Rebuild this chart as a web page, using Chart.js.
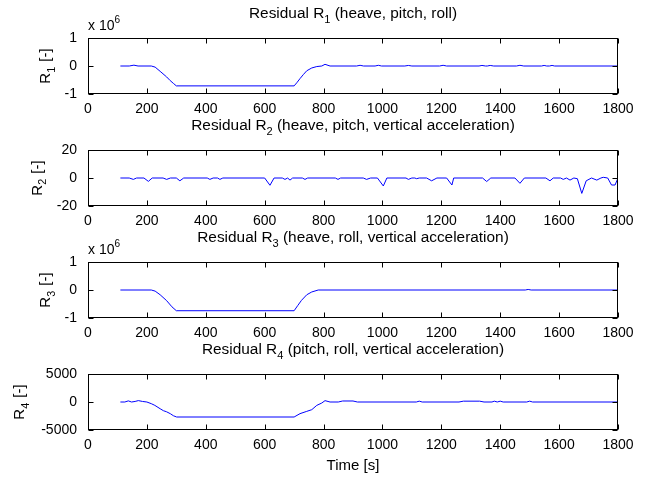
<!DOCTYPE html>
<html>
<head>
<meta charset="utf-8">
<script src="https://cdn.jsdelivr.net/npm/chart.js@4.4.1/dist/chart.umd.min.js"></script>
<style>
  body { margin: 0; background: #fff; }
  .sub { position: absolute; left: 0; width: 649px; height: 142px; }
</style>
</head>
<body>
<div class="sub" style="top:0"><canvas id="c1" width="649" height="142"></canvas></div>
<div class="sub" style="top:112px"><canvas id="c2" width="649" height="142"></canvas></div>
<div class="sub" style="top:224px"><canvas id="c3" width="649" height="142"></canvas></div>
<div class="sub" style="top:336px"><canvas id="c4" width="649" height="142"></canvas></div>
<script>
// x axis ticks shared by all four panels
const timeTicks = [0, 200, 400, 600, 800, 1000, 1200, 1400, 1600, 1800];

// Residual R1 (heave, pitch, roll)
const r1Time = [110, 140, 156, 170, 215, 228, 245, 267, 279, 290, 300, 700, 709, 720, 731, 743, 760, 777, 794, 805, 822,
  912, 924, 936, 975, 986, 997, 1076, 1088, 1100, 1194, 1206, 1218, 1328, 1338, 1350, 1356, 1366, 1378, 1455, 1467, 1480,
  1540, 1549, 1558, 1567, 1576, 1585, 1800];
const r1Vals = [0, 0, 0.03e6, 0, 0, -0.04e6, -0.19e6, -0.39e6, -0.52e6, -0.62e6, -0.71e6, -0.71e6, -0.6e6, -0.45e6, -0.31e6, -0.17e6, -0.07e6, -0.02e6, 0, 0.06e6, 0,
  0, 0.025e6, 0, 0, 0.025e6, 0, 0, 0.02e6, 0, 0, 0.025e6, 0, 0, 0.02e6, 0, 0, 0.02e6, 0, 0, 0.025e6, 0,
  0, 0.02e6, 0, 0, 0.02e6, 0, 0];
const r1Ticks = [-1e6, 0, 1e6];

// Residual R2 (heave, pitch, vertical acceleration)
const r2Time = [110, 140, 154, 165, 190, 205, 218, 255, 267, 280, 300, 312, 325, 405, 414, 425, 440, 448, 458,
  600, 618, 632, 660, 669, 678, 686, 695, 728, 737, 746, 840, 849, 858, 935, 946, 960, 983, 1003, 1015,
  1080, 1088, 1100, 1110, 1116, 1125, 1150, 1167, 1185, 1218, 1236, 1242, 1340, 1354, 1368, 1450, 1467, 1482,
  1555, 1569, 1580, 1605, 1614, 1625, 1637, 1650, 1662, 1677, 1692, 1710, 1728, 1742, 1750, 1765, 1778, 1790, 1800];
const r2Vals = [0, 0, -1, 0, 0, -2.4, 0, 0, -1, 0, 0, -2, 0, 0, -1, 0, 0, -1, 0,
  0, -5.2, 0, 0, -1, 0, -1.5, 0, 0, -1, 0, 0, -1, 0, 0, -1, 0, 0, -5.7, 0,
  0, -1, 0, 0, -0.5, 0, 0, -2, 0, 0, -5, 0, 0, -2.5, 0, 0, -3.8, 0,
  0, -2, 0, 0, -1, 0, -1.5, 0, -0.5, -11, -2, 0, -1.5, 0, 0.5, 0, -5, -5, 0];
const r2Ticks = [-20, 0, 20];

// Residual R3 (heave, roll, vertical acceleration)
const r3Time = [110, 215, 228, 245, 267, 285, 300, 700, 712, 725, 743, 760, 782, 1485, 1495, 1505, 1800];
const r3Vals = [0, 0, -0.04e6, -0.17e6, -0.38e6, -0.6e6, -0.74e6, -0.74e6, -0.56e6, -0.37e6, -0.17e6, -0.07e6, 0, 0, 0.02e6, 0, 0];
const r3Ticks = [-1e6, 0, 1e6];

// Residual R4 (pitch, roll, vertical acceleration)
const r4Time = [110, 125, 137, 148, 160, 171, 185, 200, 215, 227, 245, 256, 267, 280, 290, 301, 700, 720, 743, 760, 777, 794, 805, 822,
  850, 865, 900, 915, 1115, 1125, 1135, 1260, 1275, 1330, 1345, 1372, 1380, 1390, 1400, 1410, 1490, 1500, 1510, 1800];
const r4Vals = [0, 0, 200, 0, 100, 250, 100, 0, -300, -600, -1200, -1550, -1750, -2100, -2450, -2680, -2680, -2080, -1670, -1370, -600, -180, 240, 0,
  0, 180, 180, 0, 0, 150, 0, 0, 150, 150, 0, 0, 150, 0, 150, 0, 0, 150, 0, 0];
const r4Ticks = [-5000, 0, 5000];

const FONT = "'Liberation Sans', Arial, sans-serif";
Chart.defaults.font.family = FONT;
Chart.defaults.font.size = 14;
Chart.defaults.color = "#000";

// draw text made of parts, some of them sub/superscript
function richWidth(ctx, parts, size) {
  let w = 0;
  parts.forEach((p) => {
    ctx.font = (p.sub || p.sup ? size * 0.72 : size) + "px " + FONT;
    w += ctx.measureText(p.t).width + (p.gap || 0);
  });
  return w;
}

function drawRich(ctx, parts, x, y, size) {
  parts.forEach((p) => {
    const fs = p.sub || p.sup ? size * 0.72 : size;
    ctx.font = fs + "px " + FONT;
    const dy = p.sub ? size * 0.32 : p.sup ? -size * 0.5 : 0;
    ctx.fillText(p.t, x, y + dy);
    x += ctx.measureText(p.t).width + (p.gap || 0);
  });
}

const matlabBox = {
  id: "matlabBox",
  afterDraw(chart, args, o) {
    const { ctx, chartArea: a } = chart;
    const xs = chart.scales.x;
    const ys = chart.scales.y;
    ctx.save();
    ctx.strokeStyle = "#000";
    ctx.lineWidth = 1;
    const L = Math.round(a.left) + 0.5;
    const R = Math.round(a.right) - 0.5;
    const T = Math.round(a.top) + 0.5;
    const B = Math.round(a.bottom) - 0.5;
    ctx.strokeRect(L, T, R - L, B - T);
    ctx.beginPath();
    xs.ticks.forEach((t) => {
      const px = Math.round(xs.getPixelForValue(t.value)) + 0.5;
      ctx.moveTo(px, B);
      ctx.lineTo(px, B - 5);
      ctx.moveTo(px, T);
      ctx.lineTo(px, T + 5);
    });
    ys.ticks.forEach((t) => {
      const py = Math.round(ys.getPixelForValue(t.value)) + 0.5;
      ctx.moveTo(L, py);
      ctx.lineTo(L + 5, py);
      ctx.moveTo(R, py);
      ctx.lineTo(R - 5, py);
    });
    ctx.stroke();

    ctx.fillStyle = "#000";
    ctx.textBaseline = "alphabetic";
    ctx.textAlign = "left";
    // title
    const tw = richWidth(ctx, o.title, 15.4);
    drawRich(ctx, o.title, (a.left + a.right) / 2 - tw / 2, a.top - 20, 15.4);
    // exponent
    if (o.exp) {
      drawRich(ctx, [{ t: "x 10" }, { t: "6", sup: true }], a.left, a.top - 8, 14);
    }
    // y label
    const yw = richWidth(ctx, o.ylab, 15);
    ctx.save();
    ctx.translate(o.ylabX, (a.top + a.bottom) / 2);
    ctx.rotate(-Math.PI / 2);
    drawRich(ctx, o.ylab, -yw / 2, 0, 15);
    ctx.restore();
    // x label
    if (o.xlab) {
      ctx.font = "15px " + FONT;
      ctx.textAlign = "center";
      ctx.fillText(o.xlab, (a.left + a.right) / 2, a.bottom + 40);
    }
    ctx.restore();
  },
};

function makePanel(id, times, vals, yTicks, fmt, box) {
  const canvas = document.getElementById(id);
  return new Chart(canvas, {
    type: "line",
    data: {
      datasets: [
        {
          data: times.map((t, i) => ({ x: t, y: vals[i] })),
          borderColor: "#0000ff",
          borderWidth: 1,
          pointRadius: 0,
          tension: 0,
          fill: false,
        },
      ],
    },
    options: {
      responsive: false,
      animation: false,
      events: [],
      layout: { padding: { top: 38, right: 31, left: 0, bottom: 0 } },
      plugins: { legend: { display: false }, tooltip: { enabled: false }, matlabBox: box },
      scales: {
        x: {
          type: "linear",
          min: 0,
          max: 1800,
          grid: { display: false },
          border: { display: false },
          afterBuildTicks: (s) => { s.ticks = timeTicks.map((v) => ({ value: v })); },
          afterFit: (s) => { s.height = 142 - 94; },
          ticks: { autoSkip: false, maxRotation: 0, padding: -1, callback: (v) => String(v) },
        },
        y: {
          type: "linear",
          min: yTicks[0],
          max: yTicks[yTicks.length - 1],
          grid: { display: false },
          border: { display: false },
          afterBuildTicks: (s) => { s.ticks = yTicks.map((v) => ({ value: v })); },
          afterFit: (s) => { s.width = 88; },
          ticks: { padding: 3, callback: fmt },
        },
      },
    },
    plugins: [matlabBox],
  });
}

const mega = (v) => String(v / 1e6);
const plain = (v) => String(v);

makePanel("c1", r1Time, r1Vals, r1Ticks, mega, {
  title: [{ t: "Residual R" }, { t: "1", sub: true }, { t: " (heave, pitch, roll)" }],
  ylab: [{ t: "R" }, { t: "1", sub: true, gap: 1 }, { t: " [-]" }],
  ylabX: 50, exp: true,
});
makePanel("c2", r2Time, r2Vals, r2Ticks, plain, {
  title: [{ t: "Residual R" }, { t: "2", sub: true }, { t: " (heave, pitch, vertical acceleration)" }],
  ylab: [{ t: "R" }, { t: "2", sub: true, gap: 1 }, { t: " [-]" }],
  ylabX: 41.5,
});
makePanel("c3", r3Time, r3Vals, r3Ticks, mega, {
  title: [{ t: "Residual R" }, { t: "3", sub: true }, { t: " (heave, roll, vertical acceleration)" }],
  ylab: [{ t: "R" }, { t: "3", sub: true, gap: 1 }, { t: " [-]" }],
  ylabX: 50, exp: true,
});
makePanel("c4", r4Time, r4Vals, r4Ticks, plain, {
  title: [{ t: "Residual R" }, { t: "4", sub: true }, { t: " (pitch, roll, vertical acceleration)" }],
  ylab: [{ t: "R" }, { t: "4", sub: true, gap: 1 }, { t: " [-]" }],
  ylabX: 24, xlab: "Time [s]",
});
</script>
</body>
</html>
